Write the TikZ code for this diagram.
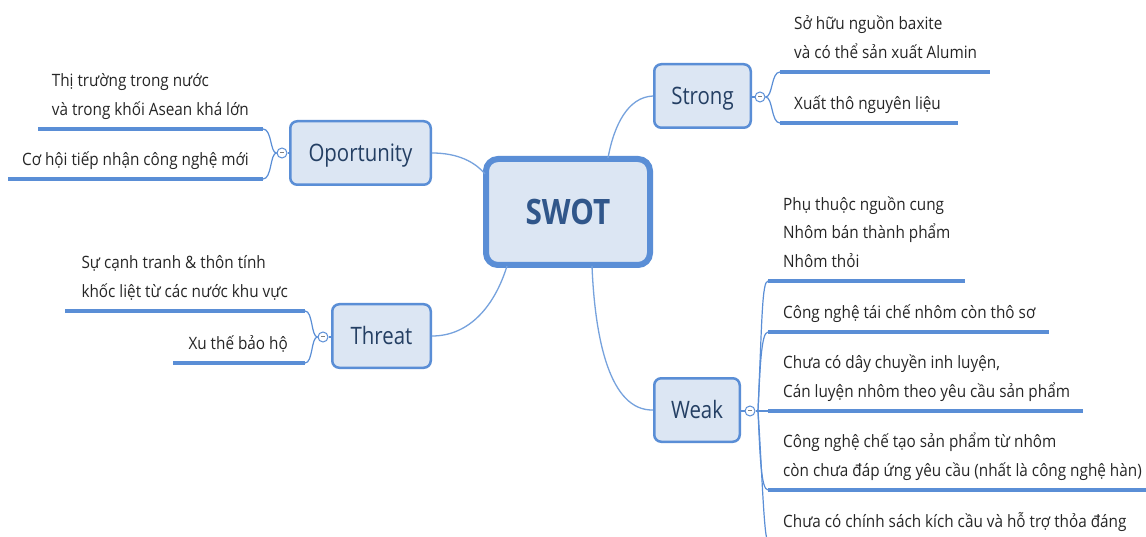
\documentclass[tikz,border=0pt]{standalone}
\usepackage{fontspec}
\setmainfont{Open Sans}[FakeStretch=0.85]
\newfontfamily\leaffont{Open Sans}[FakeStretch=0.9]
\usetikzlibrary{calc}
\definecolor{boxfill}{HTML}{DCE6F3}
\definecolor{boxline}{HTML}{5A8ED6}
\definecolor{connblue}{HTML}{76A2DD}
\definecolor{swottext}{HTML}{30568A}
\definecolor{topictext}{HTML}{243F63}
\definecolor{leafcol}{HTML}{262626}
\newcommand\leafblock[1]{\begin{tabular}[b]{@{}l@{}}#1\end{tabular}}
\begin{document}
\begin{tikzpicture}[x=1pt,y=-1pt,
  rootbox/.style={draw=boxline, line width=6pt, fill=boxfill, rounded corners=12pt,
    minimum width=164pt, minimum height=106pt, inner sep=0pt,
    font=\fontsize{35}{40}\selectfont\bfseries, text=swottext, text height=25pt, text depth=0pt},
  topicbox/.style={draw=boxline, line width=2.5pt, fill=boxfill, rounded corners=7pt,
    minimum height=63.5pt, inner sep=0pt, font=\fontsize{24}{28}\selectfont, text=topictext,
    text height=17pt, text depth=0pt},
  leaftext/.style={inner sep=0pt, font=\leaffont\fontsize{17}{28.7}\selectfont, text=leafcol},
  leafline/.style={draw=boxline, line width=4pt},
  conn/.style={draw=connblue, line width=1.3pt},
  branch/.style={draw=boxline, line width=1.2pt},
  toggle/.style={circle, draw=boxline, line width=1pt, fill=white, minimum size=10pt, inner sep=0pt}
]
\clip (0,0) rectangle (1146,537);
\fill[white] (0,0) rectangle (1146,537);

% ---------- main boxes ----------
\node[rootbox] (swot) at (568,212) {SWOT};
\node[topicbox, minimum width=96.5pt] (strong) at (702.5,96) {Strong};
\node[topicbox, minimum width=140.5pt] (opp) at (360.5,153) {Oportunity};
\node[topicbox, minimum width=98.5pt] (threat) at (381.5,336) {Threat};
\node[topicbox, minimum width=85.5pt] (weak) at (697,410) {Weak};

% ---------- connectors from root ----------
\coordinate (swotS) at (608,158);
\coordinate (swotO) at (485,174);
\coordinate (swotT) at (507,266);
\coordinate (swotW) at (592,266);
\draw[conn] (swotS) .. controls (614,125) and (628,97) .. (strong.west);
\draw[conn] (opp.east) .. controls (458,153) and (475,162) .. (swotO);
\draw[conn] (swotT) .. controls (495,305) and (470,336) .. (threat.east);
\draw[conn] (swotW) .. controls (595,340) and (610,411) .. (weak.west);

% ---------- toggles ----------
\node[toggle] (tS) at (760,97) {\textcolor{gray}{\rule[0.25ex]{4pt}{0.7pt}}};
\node[toggle] (tO) at (282,153) {\textcolor{gray}{\rule[0.25ex]{4pt}{0.7pt}}};
\node[toggle] (tT) at (323,337) {\textcolor{gray}{\rule[0.25ex]{4pt}{0.7pt}}};
\node[toggle] (tW) at (750,411) {\textcolor{gray}{\rule[0.25ex]{4pt}{0.7pt}}};
\draw[branch] (strong.east |- tS) -- (tS.west);
\draw[branch] (opp.west |- tO) -- (tO.east);
\draw[branch] (threat.west |- tT) -- (tT.east);
\draw[branch] (weak.east |- tW) -- (tW.west);

% ---------- Strong leaves ----------
\coordinate (s1a) at (780,72);  \coordinate (s1b) at (990,72);
\coordinate (s2a) at (780,123); \coordinate (s2b) at (958,123);
\draw[branch] (tS.east) .. controls (773,97) and (771,72) .. (s1a);
\draw[branch] (tS.east) .. controls (773,97) and (771,123) .. (s2a);
\draw[leafline] (s1a) -- (s1b);
\draw[leafline] (s2a) -- (s2b);
\node[leaftext, anchor=base west] (s1) at (794,58.5) {\leafblock{Sở hữu nguồn baxite\\và có thể sản xuất Alumin}};
\node[leaftext, anchor=base west] (s2) at (794,109.5) {\leafblock{Xuất thô nguyên liệu}};

% ---------- Oportunity leaves ----------
\coordinate (o1a) at (38,129);  \coordinate (o1b) at (263,129);
\coordinate (o2a) at (8,179);   \coordinate (o2b) at (263,179);
\draw[branch] (tO.west) .. controls (270,153) and (272,129) .. (o1b);
\draw[branch] (tO.west) .. controls (270,153) and (272,179) .. (o2b);
\draw[leafline] (o1a) -- (o1b);
\draw[leafline] (o2a) -- (o2b);
\node[leaftext, anchor=base east] (o1) at (249,115.5) {\leafblock{Thị trường trong nước\\và trong khối Asean khá lớn}};
\node[leaftext, anchor=base east] (o2) at (249,165.5) {\leafblock{Cơ hội tiếp nhận công nghệ mới}};

% ---------- Threat leaves ----------
\coordinate (t1a) at (65,311);  \coordinate (t1b) at (305,311);
\coordinate (t2a) at (173,363); \coordinate (t2b) at (305,363);
\draw[branch] (tT.west) .. controls (311,337) and (313,311) .. (t1b);
\draw[branch] (tT.west) .. controls (311,337) and (313,363) .. (t2b);
\draw[leafline] (t1a) -- (t1b);
\draw[leafline] (t2a) -- (t2b);
\node[leaftext, anchor=base east] (t1) at (288,297.5) {\leafblock{Sự cạnh tranh \& thôn tính\\khốc liệt từ các nước khu vực}};
\node[leaftext, anchor=base east] (t2) at (288,349.5) {\leafblock{Xu thế bảo hộ}};

% ---------- Weak leaves ----------
\coordinate (wb) at (758,411);
\coordinate (w1a) at (768,281); \coordinate (w1b) at (965,281);
\coordinate (w2a) at (768,332); \coordinate (w2b) at (1049,332);
\coordinate (w3a) at (768,411); \coordinate (w3b) at (1083,411);
\coordinate (w4a) at (768,490); \coordinate (w4b) at (1150,490);
\coordinate (w5a) at (768,541); \coordinate (w5b) at (1150,541);
\draw[branch] (tW.east) -- (w3a);
\draw[branch] (wb) .. controls (762,320) and (762,281) .. (w1a);
\draw[branch] (wb) .. controls (760,370) and (761,332) .. (w2a);
\draw[branch] (wb) .. controls (760,455) and (761,490) .. (w4a);
\draw[branch] (wb) .. controls (762,470) and (764,541) .. (w5a);
\draw[leafline] (w1a) -- (w1b);
\draw[leafline] (w2a) -- (w2b);
\draw[leafline] (w3a) -- (w3b);
\draw[leafline] (w4a) -- (w4b);
\draw[leafline] (w5a) -- (w5b);
\node[leaftext, anchor=base west] (w1) at (783,267.5) {\leafblock{Phụ thuộc nguồn cung\\Nhôm bán thành phẩm\\Nhôm thỏi}};
\node[leaftext, anchor=base west] (w2) at (783,318.5) {\leafblock{Công nghệ tái chế nhôm còn thô sơ}};
\node[leaftext, anchor=base west] (w3) at (783,397.5) {\leafblock{Chưa có dây chuyền inh luyện,\\Cán luyện nhôm theo yêu cầu sản phẩm}};
\node[leaftext, anchor=base west] (w4) at (783,476.5) {\leafblock{Công nghệ chế tạo sản phẩm từ nhôm\\còn chưa đáp ứng yêu cầu (nhất là công nghệ hàn)}};
\node[leaftext, anchor=base west] (w5) at (783,527) {\leafblock{Chưa có chính sách kích cầu và hỗ trợ thỏa đáng}};
\end{tikzpicture}
\end{document}
